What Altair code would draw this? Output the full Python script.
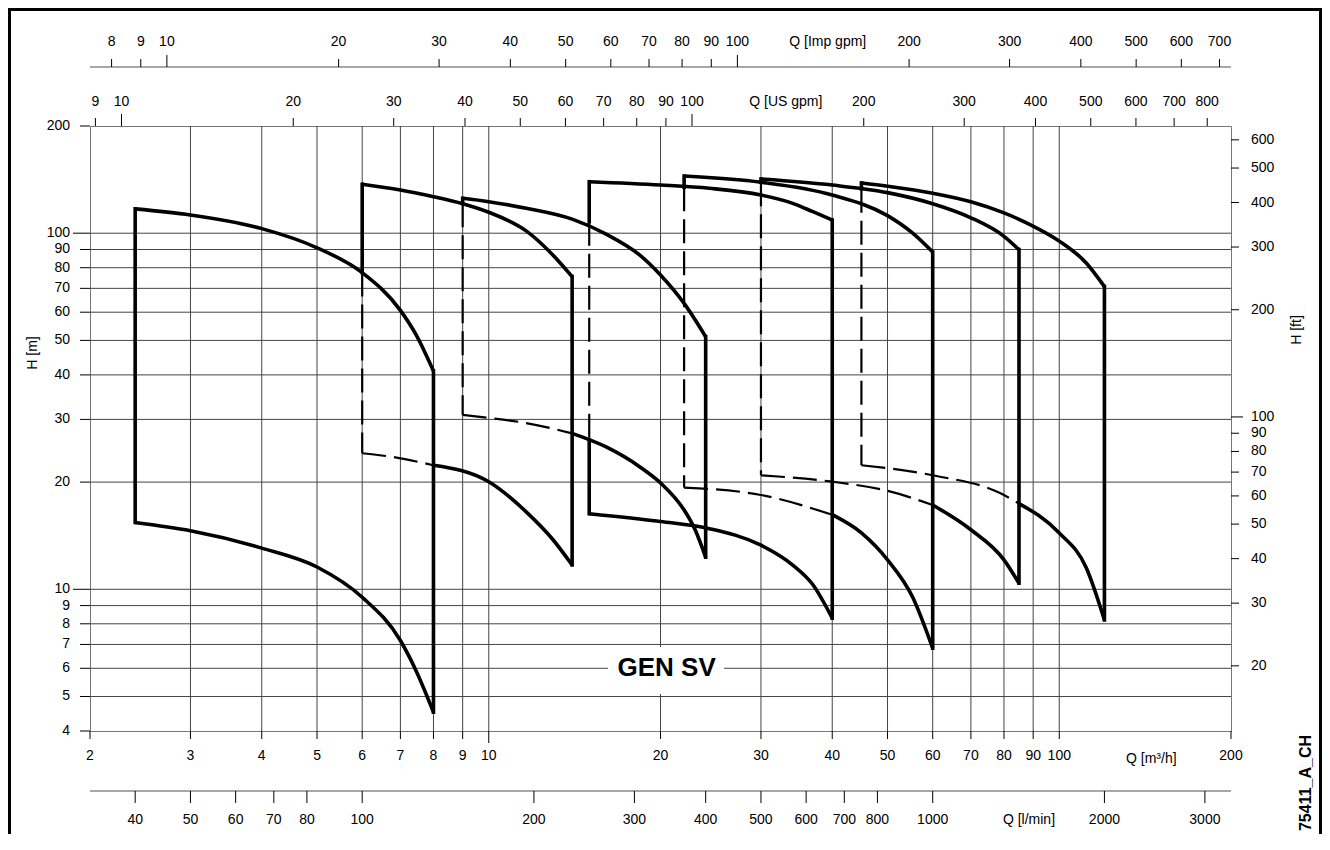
import altair as alt
import pandas as pd

# ---------------- data ----------------
# operating-range envelopes of the GEN SV pump families (Q in m3/h, H in m)
Q_MIN = [2.4, 6, 9, 15, 22, 30, 45]
Q_MAX = [8, 14, 24, 40, 60, 85, 120]

TOP1_Q = [2.4, 3, 4, 5, 6, 7, 7.46, 8]
TOP1_H = [117, 112.5, 103, 91, 77.5, 60.7, 51.8, 41]
BOT1_Q = [2.4, 3, 4, 5, 6, 7, 7.46, 8]
BOT1_H = [15.4, 14.6, 13.05, 11.55, 9.5, 7.18, 5.9, 4.52]

TOP2_Q = [6, 7, 8, 9, 10, 11.63, 12.95, 14]
TOP2_H = [137.2, 132.2, 126.6, 121, 114.5, 101.5, 86.9, 75.5]
BOT2_Q = [6, 6.7, 8, 10, 11.63, 12.95, 14]
BOT2_H = [24.1, 23.6, 22.3, 20.05, 16.5, 13.8, 11.7]

TOP3_Q = [9, 10, 11.63, 14, 16.06, 18.38, 20, 22, 24]
TOP3_H = [125.3, 122.6, 117.5, 109.5, 99.4, 86.9, 76.3, 63.5, 51.2]
BOT3_Q = [9, 10, 11.63, 14, 16.06, 18.38, 20, 22, 23, 24]
BOT3_H = [30.9, 30.3, 29.3, 27.4, 25.1, 22.1, 19.9, 16.7, 14.7, 12.3]

TOP4_Q = [15, 20, 24.37, 30, 34.1, 37, 40]
TOP4_H = [139.5, 136.6, 133.7, 128, 121.3, 114.9, 108.9]
BOT4_Q = [15, 20, 24.37, 30, 34.1, 37, 40]
BOT4_H = [16.3, 15.5, 14.8, 13.3, 11.7, 10.3, 8.3]

TOP5_Q = [22, 30, 40, 50, 55.35, 60]
TOP5_H = [144.7, 139, 128, 112, 100, 88.5]
BOT5_Q = [22, 30, 40, 45, 50, 55.35, 60]
BOT5_H = [19.3, 18.4, 16.2, 14.4, 12.1, 9.5, 6.83]

TOP6_Q = [30, 40, 50, 60, 70, 80, 85]
TOP6_H = [142, 136.5, 130, 121, 110.5, 98, 89.9]
BOT6_Q = [30, 40, 50, 60, 70, 80, 85]
BOT6_H = [20.9, 20.05, 18.9, 17.25, 14.7, 12.1, 10.4]

TOP7_Q = [45, 50, 60, 70, 80, 89.6, 100, 111.5, 120]
TOP7_H = [138.4, 135.5, 129.5, 122.5, 114, 105, 95, 82.5, 70.8]
BOT7_Q = [45, 60, 78.9, 85, 100, 111.5, 120]
BOT7_H = [22.3, 20.9, 18.6, 17.4, 14.4, 11.5, 8.2]

# parts hidden behind the previous family (drawn dashed)
LEFT_DASH_FROM_H = [None, 77.5, 121.3, 107.7, 134.5, 139, 133.3]
LEFT_DASH_TO_H = [None, 24.1, 30.9, 26.3, 19.3, 20.9, 22.3]
BOTTOM_DASH_TO_Q = [None, 8, 14, None, 40, 60, 85]

# axis ticks
X_TICKS = [2, 3, 4, 5, 6, 7, 8, 9, 10, 20, 30, 40, 50, 60, 70, 80, 90, 100, 200]
Y_TICKS = [4, 5, 6, 7, 8, 9, 10, 20, 30, 40, 50, 60, 70, 80, 90, 100, 200]
X_GRID = [3, 4, 5, 6, 7, 8, 9, 10, 20, 30, 40, 50, 60, 70, 80, 90, 100]
Y_GRID = [5, 6, 7, 8, 9, 10, 20, 30, 40, 50, 60, 70, 80, 90, 100]
FT_TICKS = [20, 30, 40, 50, 60, 70, 80, 90, 100, 200, 300, 400, 500, 600]
USGPM_TICKS = [9, 10, 20, 30, 40, 50, 60, 70, 80, 90, 100, 200, 300, 400, 500, 600, 700, 800]
IMPGPM_TICKS = [8, 9, 10, 20, 30, 40, 50, 60, 70, 80, 90, 100, 200, 300, 400, 500, 600, 700]
LPM_TICKS = [40, 50, 60, 70, 80, 100, 200, 300, 400, 500, 600, 700, 800, 1000, 2000, 3000]

# unit conversions
US_GPM_PER_M3H = 4.402868
IMP_GPM_PER_M3H = 3.666154
LPM_PER_M3H = 1000 / 60
FT_PER_M = 3.280840

# ---------------- layout ----------------
W, H = 1141, 605
PAD = {"left": 82, "top": 118, "right": 91, "bottom": 103}
FONT = "Liberation Sans"
FS = 14
XS = alt.Scale(type="log", domain=[2, 200], nice=False)
YS = alt.Scale(type="log", domain=[4, 200], nice=False)


def X(f="q"):
    return alt.X(f"{f}:Q", scale=XS, axis=None)


def Y(f="h"):
    return alt.Y(f"{f}:Q", scale=YS, axis=None)


# ---------------- envelope segments ----------------
TOPS = [(TOP1_Q, TOP1_H), (TOP2_Q, TOP2_H), (TOP3_Q, TOP3_H), (TOP4_Q, TOP4_H),
        (TOP5_Q, TOP5_H), (TOP6_Q, TOP6_H), (TOP7_Q, TOP7_H)]
BOTS = [(BOT1_Q, BOT1_H), (BOT2_Q, BOT2_H), (BOT3_Q, BOT3_H), (BOT4_Q, BOT4_H),
        (BOT5_Q, BOT5_H), (BOT6_Q, BOT6_H), (BOT7_Q, BOT7_H)]

curve_rows = []
vert_rows = []


def add_curve(seg, qs, hs, kind):
    for i, (q, h) in enumerate(zip(qs, hs)):
        curve_rows.append({"seg": seg, "ord": i, "q": q, "h": h, "kind": kind})


def add_vert(q, h1, h2, kind):
    vert_rows.append({"q": q, "h": h1, "h2": h2, "kind": kind})


for i in range(7):
    tq, th = TOPS[i]
    bq, bh = BOTS[i]
    add_curve(f"e{i}top", tq, th, "solid")
    cut = BOTTOM_DASH_TO_Q[i]
    if cut is None:
        add_curve(f"e{i}bot", bq, bh, "solid")
    else:
        k = bq.index(cut)
        add_curve(f"e{i}botd", bq[:k + 1], bh[:k + 1], "hidden")
        add_curve(f"e{i}bots", bq[k:], bh[k:], "solid")
    qmin = Q_MIN[i]
    a, b = LEFT_DASH_FROM_H[i], LEFT_DASH_TO_H[i]
    if a is None:
        add_vert(qmin, th[0], bh[0], "solid")
    else:
        add_vert(qmin, th[0], a, "solid")
        add_vert(qmin, a, b, "hidden")
        if b > bh[0] + 1e-9:
            add_vert(qmin, b, bh[0], "solid")
    add_vert(Q_MAX[i], th[-1], bh[-1], "solid")

curves = pd.DataFrame(curve_rows)
verts = pd.DataFrame(vert_rows)

DASH = [24, 8]
SOLID_W = 3.6
DASH_W = 2.2

curve_solid = alt.Chart(curves[curves.kind == "solid"]).mark_line(
    interpolate="monotone", color="black", strokeWidth=SOLID_W, strokeCap="butt"
).encode(x=X(), y=Y(), detail="seg:N", order="ord:Q")
curve_dash = alt.Chart(curves[curves.kind == "hidden"]).mark_line(
    interpolate="monotone", color="black", strokeWidth=DASH_W, strokeDash=DASH
).encode(x=X(), y=Y(), detail="seg:N", order="ord:Q")
vert_solid = alt.Chart(verts[verts.kind == "solid"]).mark_rule(
    color="black", strokeWidth=SOLID_W, strokeCap="square"
).encode(x=X(), y=Y(), y2="h2:Q")
vert_dash = alt.Chart(verts[verts.kind == "hidden"]).mark_rule(
    color="black", strokeWidth=DASH_W, strokeDash=DASH
).encode(x=X(), y=Y(), y2="h2:Q")

# ---------------- grid ----------------
GRID_C = "#444444"
xgrid = alt.Chart(pd.DataFrame({"q": X_GRID})).mark_rule(color=GRID_C, strokeWidth=1).encode(
    x=X(), y=alt.value(0), y2=alt.value(H))
ygrid = alt.Chart(pd.DataFrame({"h": Y_GRID})).mark_rule(color=GRID_C, strokeWidth=1).encode(
    y=Y(), x=alt.value(0), x2=alt.value(W))


def text_layer(df, **kw):
    props = dict(font=FONT, fontSize=FS, color="black", align="center", baseline="middle")
    props.update(kw)
    return alt.Chart(df).mark_text(**props)


def xticks(values, y1, y2, color="black", width=1):
    return alt.Chart(pd.DataFrame({"q": values})).mark_rule(color=color, strokeWidth=width).encode(
        x=X(), y=alt.value(y1), y2=alt.value(y2))


def yticks(values, x1, x2, color="black", width=1):
    return alt.Chart(pd.DataFrame({"h": values})).mark_rule(color=color, strokeWidth=width).encode(
        y=Y(), x=alt.value(x1), x2=alt.value(x2))


layers = [xgrid, ygrid]

# GEN SV label with white background box
layers.append(alt.Chart(pd.DataFrame({"a": [0]})).mark_rect(color="white").encode(
    x=alt.value(518), x2=alt.value(634), y=alt.value(521), y2=alt.value(568)))
layers.append(text_layer(pd.DataFrame({"q": [20.5], "h": [6.0], "t": ["GEN SV"]}),
                         fontSize=26, fontWeight="bold").encode(x=X(), y=Y(), text="t:N"))

layers += [curve_dash, vert_dash, curve_solid, vert_solid]

# ---- bottom axis: Q [m3/h]
maj_x = [v for v in X_TICKS if v == 10]
min_x = [v for v in X_TICKS if v != 10]
layers.append(xticks(min_x, H, H + 8))
layers.append(xticks(maj_x, H, H + 12))
layers.append(text_layer(pd.DataFrame({"q": X_TICKS, "t": [str(v) for v in X_TICKS]})).encode(
    x=X(), y=alt.value(H + 25), text="t:N"))
layers.append(text_layer(pd.DataFrame({"q": [145], "t": ["Q [m³/h]"]})).encode(
    x=X(), y=alt.value(H + 28), text="t:N"))

# ---- lower axis: Q [l/min]
LPM_Y = H + 60
layers.append(alt.Chart(pd.DataFrame({"a": [0]})).mark_rule(color="#8a8a8a", strokeWidth=1.5).encode(
    x=alt.value(0), x2=alt.value(W), y=alt.value(LPM_Y)))
lpm_q = [v / LPM_PER_M3H for v in LPM_TICKS]
layers.append(xticks(lpm_q, LPM_Y, LPM_Y + 12))
layers.append(text_layer(pd.DataFrame({"q": lpm_q, "t": [str(v) for v in LPM_TICKS]})).encode(
    x=X(), y=alt.value(LPM_Y + 29), text="t:N"))
layers.append(text_layer(pd.DataFrame({"q": [1475 / LPM_PER_M3H], "t": ["Q [l/min]"]})).encode(
    x=X(), y=alt.value(LPM_Y + 29), text="t:N"))

# ---- top axis: Q [US gpm]
us_q = [v / US_GPM_PER_M3H for v in USGPM_TICKS]
us_major = [v / US_GPM_PER_M3H for v in USGPM_TICKS if v in (10, 100)]
us_minor = [v / US_GPM_PER_M3H for v in USGPM_TICKS if v not in (10, 100)]
layers.append(xticks(us_minor, -8, 0))
layers.append(xticks(us_major, -12, 0))
layers.append(text_layer(pd.DataFrame({"q": us_q, "t": [str(v) for v in USGPM_TICKS]})).encode(
    x=X(), y=alt.value(-24), text="t:N"))
layers.append(text_layer(pd.DataFrame({"q": [146 / US_GPM_PER_M3H], "t": ["Q [US gpm]"]})).encode(
    x=X(), y=alt.value(-24), text="t:N"))

# ---- top axis: Q [Imp gpm]
IMP_Y = -59
layers.append(alt.Chart(pd.DataFrame({"a": [0]})).mark_rule(color="#8a8a8a", strokeWidth=1.5).encode(
    x=alt.value(0), x2=alt.value(W), y=alt.value(IMP_Y)))
imp_q = [v / IMP_GPM_PER_M3H for v in IMPGPM_TICKS]
imp_major = [v / IMP_GPM_PER_M3H for v in IMPGPM_TICKS if v in (10, 100)]
imp_minor = [v / IMP_GPM_PER_M3H for v in IMPGPM_TICKS if v not in (10, 100)]
layers.append(xticks(imp_minor, IMP_Y - 8, IMP_Y))
layers.append(xticks(imp_major, IMP_Y - 12, IMP_Y))
layers.append(text_layer(pd.DataFrame({"q": imp_q, "t": [str(v) for v in IMPGPM_TICKS]})).encode(
    x=X(), y=alt.value(IMP_Y - 25), text="t:N"))
layers.append(text_layer(pd.DataFrame({"q": [144 / IMP_GPM_PER_M3H], "t": ["Q [Imp gpm]"]})).encode(
    x=X(), y=alt.value(IMP_Y - 25), text="t:N"))

# ---- left axis: H [m]
maj_y = [v for v in Y_TICKS if v in (10, 100)]
min_y = [v for v in Y_TICKS if v not in (10, 100)]
layers.append(yticks(min_y, -10, 0))
layers.append(yticks(maj_y, -17, 0))
layers.append(text_layer(pd.DataFrame({"h": Y_TICKS, "t": [str(v) for v in Y_TICKS]}), align="right").encode(
    y=Y(), x=alt.value(-20), text="t:N"))
layers.append(text_layer(pd.DataFrame({"a": [0], "t": ["H [m]"]}), angle=270).encode(
    x=alt.value(-57), y=alt.value(227), text="t:N"))

# ---- right axis: H [ft]
ft_h = [v / FT_PER_M for v in FT_TICKS]
ft_major = [v / FT_PER_M for v in FT_TICKS if v == 100]
ft_minor = [v / FT_PER_M for v in FT_TICKS if v != 100]
layers.append(yticks(ft_minor, W, W + 8))
layers.append(yticks(ft_major, W, W + 12))
layers.append(text_layer(pd.DataFrame({"h": ft_h, "t": [str(v) for v in FT_TICKS]}), align="left").encode(
    y=Y(), x=alt.value(W + 20), text="t:N"))
layers.append(text_layer(pd.DataFrame({"a": [0], "t": ["H [ft]"]}), angle=270).encode(
    x=alt.value(W + 66), y=alt.value(204), text="t:N"))

# ---- drawing code and frame
layers.append(text_layer(pd.DataFrame({"a": [0], "t": ["75411_A_CH"]}), angle=270, fontWeight="bold",
                         fontSize=16).encode(x=alt.value(W + 75), y=alt.value(657), text="t:N"))
layers.append(alt.Chart(pd.DataFrame({"a": [0]})).mark_rect(fill=None, stroke="black", strokeWidth=3).encode(
    x=alt.value(-PAD["left"] + 1.5), x2=alt.value(W + PAD["right"] - 1.5),
    y=alt.value(-PAD["top"] + 1.5), y2=alt.value(H + PAD["bottom"] + 20)))

chart = alt.layer(*layers).properties(
    width=W, height=H,
    padding=PAD,
    autosize=alt.AutoSizeParams(type="none"),
).configure_view(stroke="#777777", strokeWidth=1)

chart.save("out.html", embed_options={"renderer": "svg", "actions": False})
